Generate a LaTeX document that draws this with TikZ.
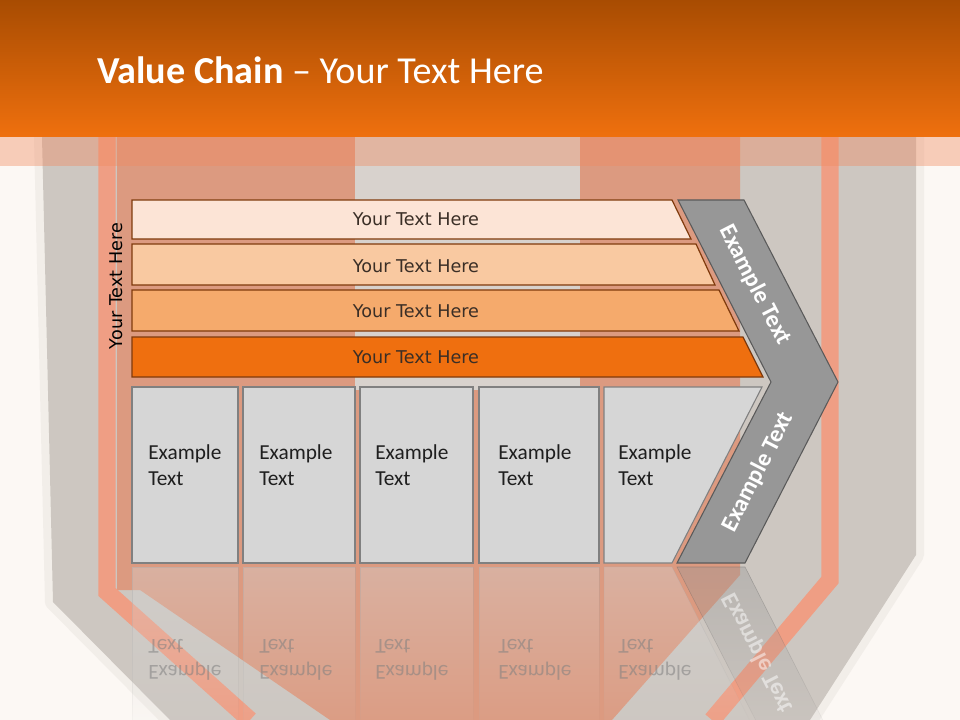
\documentclass[tikz,border=0pt]{standalone}
\usepackage{fontspec}
\setmainfont{Carlito}
\newfontfamily\barfont{DejaVu Sans}
\usetikzlibrary{fadings}

\definecolor{headtop}{HTML}{A84C02}
\definecolor{headbot}{HTML}{EF700E}
\definecolor{cream}{HTML}{FCF8F4}
\definecolor{badge}{HTML}{CDC7C1}
\definecolor{window}{HTML}{D8D2CD}
\definecolor{stripe}{HTML}{EF9E84}
\definecolor{texture}{HTML}{DC9A80}
\definecolor{bandcol}{HTML}{F08A60}
\definecolor{barA}{HTML}{FCE4D6}
\definecolor{barB}{HTML}{F9C9A1}
\definecolor{barC}{HTML}{F5AA6C}
\definecolor{barD}{HTML}{EF6F0F}
\definecolor{barline}{HTML}{7F3A0C}
\definecolor{bartextcol}{HTML}{3A2E26}
\definecolor{boxfill}{HTML}{D6D6D6}
\definecolor{boxline}{HTML}{808080}
\definecolor{chevfill}{HTML}{979797}
\definecolor{chevline}{HTML}{5A5A5A}

\tikzfading[name=reflectfade, top color=transparent!62, bottom color=transparent!100]

\begin{document}
\begin{tikzpicture}[x=0.75pt, y=-0.75pt,
  bar/.style={draw=barline, line width=0.9pt},
  bartext/.style={font=\barfont\fontsize{13.2}{16}\selectfont, text=bartextcol},
  box/.style={fill=boxfill, draw=boxline, line width=0.8pt},
  boxtext/.style={font=\fontsize{16}{19.5}\selectfont, align=left, anchor=west, inner sep=0pt, text=black!88},
  chev/.style={fill=chevfill, draw=chevline, line width=0.8pt},
  chevtext/.style={font=\bfseries\fontsize{18}{21}\selectfont, text=white},
  mirror/.style={path fading=reflectfade, fill=boxfill, draw=boxline!70},
  mirrortext/.style={boxtext, yscale=-1, text=gray, text opacity=0.55}]

  \useasboundingbox (0,0) rectangle (960,720);
  \clip (0,0) rectangle (960,720);

  % Tlo
  \fill[cream] (0,0) rectangle (960,720);
  \draw[badge, line width=12pt, opacity=0.2, line join=round]
    (42,137) -- (916,137) -- (916,555) -- (810,720) -- (170,720) -- (53,602) -- cycle;
  \fill[badge] (42,137) -- (916,137) -- (916,555) -- (810,720) -- (170,720) -- (53,602) -- cycle;
  \fill[texture] (117,137) -- (355,137) -- (355,390) -- (580,390) -- (580,137) -- (740,137)
    -- (740,575) -- (612,720) -- (330,720) -- (140,590) -- (117,590) -- cycle;
  \fill[window] (355,137) rectangle (580,390);
  \draw[stripe, line width=13pt] (107,137) -- (107,592) -- (250,720);
  \draw[stripe, line width=13pt] (830,137) -- (830,580) -- (712,720);

  % Naglowek
  \shade[top color=headtop, bottom color=headbot] (0,0) rectangle (960,137);
  \fill[bandcol, opacity=0.4] (0,137) rectangle (960,166);
  \node[anchor=base west, inner sep=0pt, text=white, font=\fontsize{28.6}{32}\selectfont] (title) at (97,84)
    {\textbf{Value Chain} – Your Text Here};

  % Paski
  \filldraw[bar, fill=barA] (132,200) -- (672,200) -- (691,239) -- (132,239) -- cycle;
  \filldraw[bar, fill=barB] (132,244) -- (696,244) -- (715,285) -- (132,285) -- cycle;
  \filldraw[bar, fill=barC] (132,290) -- (719,290) -- (739,331) -- (132,331) -- cycle;
  \filldraw[bar, fill=barD] (132,337) -- (743,337) -- (763,377) -- (132,377) -- cycle;
  \node[bartext] (barA) at (416,219) {Your Text Here};
  \node[bartext] (barB) at (416,266) {Your Text Here};
  \node[bartext] (barC) at (416,311) {Your Text Here};
  \node[bartext] (barD) at (416,357) {Your Text Here};
  \node[bartext, text=black, rotate=90] (side) at (116,286) {Your Text Here};

  % Strzalka
  \filldraw[chev] (678,200) -- (744,200) -- (838,382) -- (745,563) -- (677,563) -- (771,382) -- cycle;
  \node[chevtext, rotate=-62.9] (chevA) at (755,285) {Example Text};
  \node[chevtext, rotate=62.9] (chevB) at (758,472) {Example Text};

  % Pola
  \filldraw[box] (132,387) rectangle (238,563);
  \filldraw[box] (243,387) rectangle (355,563);
  \filldraw[box] (360,387) rectangle (473,563);
  \filldraw[box] (479,387) rectangle (599,563);
  \filldraw[box] (604,387) -- (762,387) -- (672,563) -- (604,563) -- cycle;
  \node[boxtext] (boxA) at (148,465) {Example\\Text};
  \node[boxtext] (boxB) at (259,465) {Example\\Text};
  \node[boxtext] (boxC) at (375,465) {Example\\Text};
  \node[boxtext] (boxD) at (498,465) {Example\\Text};
  \node[boxtext] (boxE) at (618,465) {Example\\Text};

  % Odbicie
  \filldraw[mirror] (132,567) rectangle (238,745);
  \filldraw[mirror] (243,567) rectangle (355,745);
  \filldraw[mirror] (360,567) rectangle (473,745);
  \filldraw[mirror] (479,567) rectangle (599,745);
  \filldraw[mirror] (604,567) -- (672,567) -- (762,745) -- (604,745) -- cycle;
  \filldraw[mirror, fill=chevfill, draw=chevline] (677,567) -- (745,567) -- (838,750) -- (771,750) -- cycle;
  \node[mirrortext] (mirA) at (148,660) {Example\\Text};
  \node[mirrortext] (mirB) at (259,660) {Example\\Text};
  \node[mirrortext] (mirC) at (375,660) {Example\\Text};
  \node[mirrortext] (mirD) at (498,660) {Example\\Text};
  \node[mirrortext] (mirE) at (618,660) {Example\\Text};
  \node[chevtext, text opacity=0.5, rotate=-62.9, yscale=-1] (mirF) at (758,653) {Example Text};
\end{tikzpicture}
\end{document}
